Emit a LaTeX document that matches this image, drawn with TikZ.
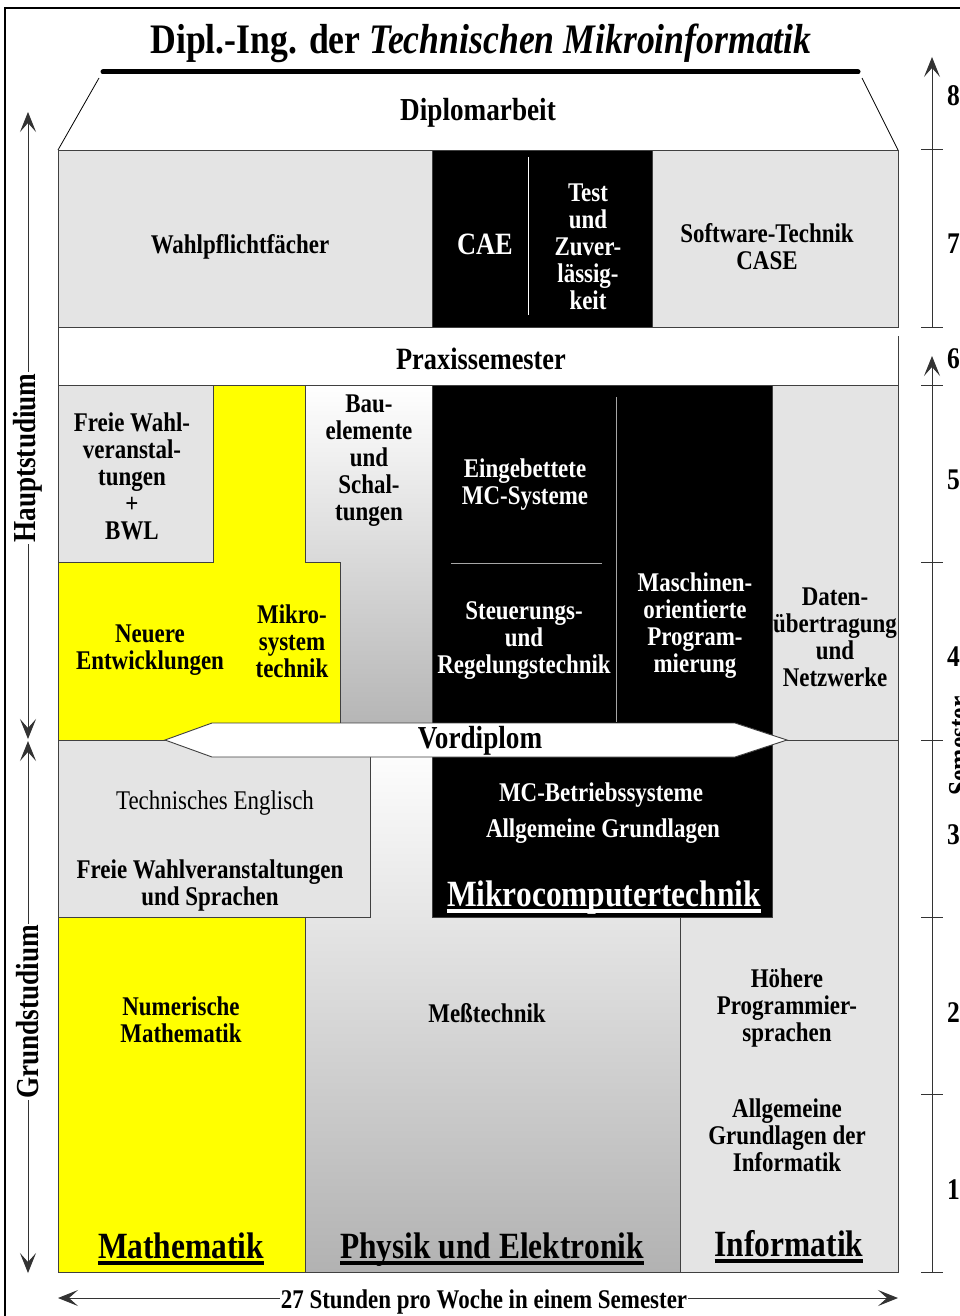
\documentclass[tikz,border=0pt]{standalone}
\usepackage{fontspec}
\setmainfont[FakeStretch=0.85]{Liberation Serif}
\usetikzlibrary{arrows.meta}
\definecolor{lg}{RGB}{228,228,228}
\definecolor{bd}{RGB}{64,64,64}
\definecolor{yel}{RGB}{255,255,0}
\definecolor{shd}{RGB}{178,178,178}
\tikzset{
  blk/.style={draw=bd, line width=0.9pt},
  txt/.style={font=\bfseries\fontsize{27}{27}\selectfont, align=center, inner sep=0pt},
  wtxt/.style={txt, text=white},
  rtxt/.style={font=\fontsize{27}{27}\selectfont, align=center, inner sep=0pt},
  hd/.style={font=\bfseries\fontsize{31}{31}\selectfont, inner sep=0pt},
  bigl/.style={font=\bfseries\fontsize{37}{37}\selectfont, inner sep=0pt, anchor=base},
  num/.style={font=\bfseries\fontsize{30}{30}\selectfont, inner sep=0pt, anchor=west},
  axis/.style={line width=1pt, draw=black!80},
  upar/.style={-{Stealth[length=20pt,width=16pt,inset=9pt]}},
  dblar/.style={{Stealth[length=20pt,width=16pt,inset=9pt]}-{Stealth[length=20pt,width=16pt,inset=9pt]}},
  side/.style={font=\bfseries\fontsize{32}{32}\selectfont, rotate=90, fill=white, inner sep=1pt},
  ulw/.style={line width=4pt},
}
\begin{document}
\begin{tikzpicture}[x=1pt,y=-1pt]
\useasboundingbox (0,0) rectangle (960,1316);
\fill[white] (0,0) rectangle (960,1316);
% frame
\draw[line width=2.5pt] (5,1320) -- (5,8) -- (965,8);
% title
\node[font=\bfseries\fontsize{42}{42}\selectfont, inner sep=0pt] (title) at (481,43) {Dipl.-Ing. der \textit{Technischen Mikroinformatik}};
\draw[line width=5pt, line cap=round] (103,72) -- (858,72);
\draw[line width=0.8pt] (99,78) -- (58,150);
\draw[line width=0.8pt] (862,78) -- (898,150);
\node[font=\bfseries\fontsize{32}{32}\selectfont, inner sep=0pt] (dipl) at (478,113) {Diplomarbeit};

% row 7
\path[blk, fill=lg] (58,150) rectangle (432,327);
\path[blk, fill=black] (432,150) rectangle (652,327);
\draw[white, line width=0.8pt] (528,157) -- (528,315);
\path[blk, fill=lg] (652,150) rectangle (898,327);
\node[txt] (wpf) at (240,247) {Wahlpflichtfächer};
\node[hd, text=white] (cae) at (485,244) {CAE};
\node[wtxt] (test) at (588,247) {Test\\und\\Zuver-\\lässig-\\keit};
\node[txt] (swt) at (767,247) {Software-Technik\\CASE};

% Praxissemester
\draw[blk] (58,327) -- (58,385);
\draw[blk] (898,336) -- (898,385);
\node[hd] (praxis) at (481,359) {Praxissemester};

% upper main
\path[blk, fill=lg] (58,385) rectangle (213,562);
\path[blk, fill=yel] (213,385) -- (305,385) -- (305,562) -- (340,562) -- (340,740) -- (58,740) -- (58,562) -- (213,562) -- cycle;
\shadedraw[blk, top color=white, bottom color=shd] (305,385) -- (432,385) -- (432,740) -- (340,740) -- (340,562) -- (305,562) -- cycle;
\path[blk, fill=black] (432,385) rectangle (772,740);
\draw[gray!70, line width=0.8pt] (616,397) -- (616,722);
\draw[gray!70, line width=0.8pt] (451,563) -- (602,563);
\path[blk, fill=lg] (772,385) rectangle (898,740);

% lower main
\path[blk, fill=lg] (58,740) rectangle (370,917);
\shadedraw[blk, top color=white, bottom color=shd] (370,740) -- (432,740) -- (432,917) -- (680,917) -- (680,1272) -- (305,1272) -- (305,917) -- (370,917) -- cycle;
\path[blk, fill=black] (432,740) rectangle (772,917);
\path[blk, fill=lg] (772,740) -- (898,740) -- (898,1272) -- (680,1272) -- (680,917) -- (772,917) -- cycle;
\path[blk, fill=yel] (58,917) rectangle (305,1272);

% upper texts
\node[txt] (fwv) at (132,476) {Freie Wahl-\\veranstal-\\tungen\\+\\BWL};
\node[txt] (bau) at (369,461) {Bau-\\elemente\\und\\Schal-\\tungen};
\node[wtxt] (emc) at (525,485) {Eingebettete\\MC-Systeme};
\node[wtxt] (srt) at (524,641) {Steuerungs-\\und\\Regelungstechnik};
\node[wtxt] (mop) at (695,626) {Maschinen-\\orientierte\\Program-\\mierung};
\node[txt] (dun) at (835,637) {Daten-\\übertragung\\und\\Netzwerke};
\node[txt] (neu) at (150,650) {Neuere\\Entwicklungen};
\node[txt] (mst) at (292,641) {Mikro-\\system\\technik};

% Vordiplom banner
\draw[blk, fill=white] (165,740) -- (212,723) -- (735,723) -- (787,740) -- (735,757) -- (212,757) -- cycle;
\node[font=\bfseries\fontsize{32}{32}\selectfont, inner sep=0pt] (vord) at (480,741) {Vordiplom};

% lower texts
\node[rtxt] (te) at (215,803) {Technisches Englisch};
\node[txt] (fws) at (210,885) {Freie Wahlveranstaltungen\\und Sprachen};
\node[wtxt] (mcb) at (601,795) {MC-Betriebssysteme};
\node[wtxt] (mcg) at (603,831) {Allgemeine Grundlagen};
\node[bigl, text=white] (mct) at (604,906) {Mikrocomputertechnik};
\draw[ulw, white] ([yshift=-5pt]mct.base west) -- ([yshift=-5pt]mct.base east);
\node[txt] (nm) at (181,1020) {Numerische\\Mathematik};
\node[txt] (mt) at (487,1013) {Meßtechnik};
\node[txt] (hps) at (787,1008) {Höhere\\Programmier-\\sprachen};
\node[txt] (agi) at (787,1135) {Allgemeine\\Grundlagen der\\Informatik};
\node[bigl] (mat) at (181,1258) {Mathematik};
\draw[ulw] ([yshift=-5pt]mat.base west) -- ([yshift=-5pt]mat.base east);
\node[bigl] (phy) at (492,1258) {Physik und Elektronik};
\draw[ulw] ([yshift=-5pt]phy.base west) -- ([yshift=-5pt]phy.base east);
\node[bigl] (inf) at (789,1256) {Informatik};
\draw[ulw] ([yshift=-5pt]inf.base west) -- ([yshift=-5pt]inf.base east);

% left axis
\coordinate (hTop) at (28,112);
\coordinate (hBot) at (28,739);
\coordinate (gTop) at (28,741);
\coordinate (gBot) at (28,1273);
\draw[axis, dblar] (hBot) -- (hTop);
\draw[axis, dblar] (gTop) -- (gBot);
\node[side] (haupt) at (28,458) {Hauptstudium};
\node[side] (grund) at (28,1012) {Grundstudium};

% right axis
\coordinate (aTop) at (932,57);
\coordinate (aBot) at (932,327);
\coordinate (bTop) at (932,356);
\coordinate (bBot) at (932,1272);
\draw[axis, upar] (aBot) -- (aTop);
\draw[axis, upar] (bBot) -- (bTop);
\foreach \yy in {150,327,385,562,740,917,1094,1272}
  \draw[axis] (921,\yy) -- (943,\yy);
\node[num] (s8) at (947,96) {8};
\node[num] (s7) at (947,244) {7};
\node[num] (s6) at (947,359) {6};
\node[num] (s5) at (947,480) {5};
\node[num] (s4) at (947,657) {4};
\node[num] (s3) at (947,835) {3};
\node[num] (s2) at (947,1013) {2};
\node[num] (s1) at (947,1190) {1};
\node[font=\bfseries\fontsize{30}{30}\selectfont, rotate=90, inner sep=0pt] (sem) at (959,746) {Semester};

% bottom arrow
\coordinate (bl) at (58,1298);
\coordinate (br) at (898,1298);
\draw[axis, dblar] (bl) -- (br);
\node[txt, fill=white, inner xsep=1pt] (stunden) at (484,1302) {27 Stunden pro Woche in einem Semester};
\end{tikzpicture}
\end{document}
